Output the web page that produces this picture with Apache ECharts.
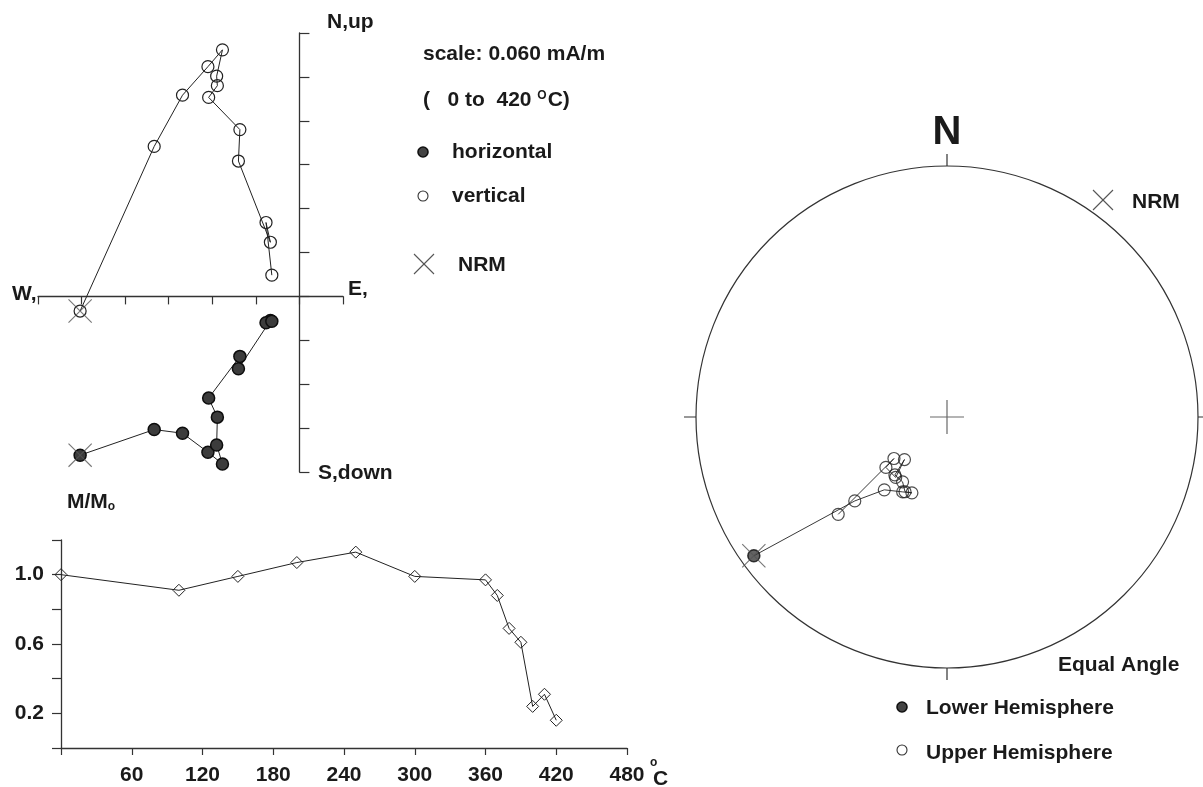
<!DOCTYPE html>
<html>
<head>
<meta charset="utf-8">
<script src="https://cdn.jsdelivr.net/npm/echarts@6/dist/echarts.min.js"></script>
<style>
  html, body { margin: 0; padding: 0; background: #fff; }
  #chart { width: 1203px; height: 787px; }
</style>
</head>
<body>
<div id="chart"></div>
<script>
// Thermal demagnetization steps (°C)
const steps = [0, 100, 150, 200, 250, 300, 360, 370, 380, 390, 400, 410, 420];
// Remanence components in mA/m
const east  = [-0.302, -0.200, -0.161, -0.126, -0.106, -0.114, -0.113, -0.125, -0.082, -0.084, -0.040, -0.046, -0.038];
const north = [-0.217, -0.182, -0.187, -0.213, -0.229, -0.203, -0.165, -0.139, -0.082, -0.099, -0.033, -0.036, -0.034];
const up    = [-0.020,  0.205,  0.275,  0.314,  0.337,  0.301,  0.288,  0.272,  0.228,  0.185,  0.074,  0.101,  0.029];
// Normalized intensity M/Mo
const intensity = [1.00, 0.91, 0.99, 1.07, 1.13, 0.99, 0.97, 0.88, 0.69, 0.61, 0.24, 0.31, 0.16];
// Labelled ticks of the intensity plot
const tempLabels = [60, 120, 180, 240, 300, 360, 420, 480];
const intensityLabels = [0.2, 0.6, 1.0];

const FONT = "'Liberation Sans', Arial, Helvetica, sans-serif";
const INK = '#1a1a1a';
const LINE = '#222';

// thin "x" and "+" marker outlines built as filled strips
const xPath = 'path://M0,0.8L0.8,0L24,23.2L23.2,24Z M23.2,0L24,0.8L0.8,24L0,23.2Z';
const plusPath = 'path://M0,16.4H34V17.6H0Z M16.4,0H17.6V34H16.4Z';

const openStyle = { color: 'rgba(255,255,255,0)', borderColor: LINE, borderWidth: 1.2 };
const filledStyle = { color: '#3c3c3c', borderColor: '#0d0d0d', borderWidth: 1.5 };

// Zijderveld pairs
const vertPts = steps.map((t, i) => [east[i], up[i]]);
const horzPts = steps.map((t, i) => [east[i], north[i]]);

// Equal-angle (stereographic) projection of each direction
const D2R = Math.PI / 180;
const dirs = steps.map((t, i) => {
  const h = Math.hypot(east[i], north[i]);
  const inc = Math.atan2(-up[i], h) / D2R;          // positive = downward
  let dec = Math.atan2(east[i], north[i]) / D2R;
  if (dec < 0) dec += 360;
  const r = Math.tan((90 - Math.abs(inc)) / 2 * D2R);
  return { r, dec, lower: inc >= 0 };
});
const stereoPath = dirs.map(d => [d.r, d.dec]);
const lowerPts = dirs.filter(d => d.lower).map(d => [d.r, d.dec]);
const upperPts = dirs.filter(d => !d.lower).map(d => [d.r, d.dec]);

function txt(text, x, y, opts) {
  opts = opts || {};
  return {
    type: 'text', silent: true, z: 10,
    style: Object.assign({
      text, x, y,
      fontFamily: FONT, fontWeight: 'bold', fontSize: 21, fill: INK,
      align: 'left', verticalAlign: 'middle',
      textAlign: 'left', textVerticalAlign: 'middle'
    }, opts)
  };
}
function cross(cx, cy, half) {
  const s = { stroke: '#555', lineWidth: 1.1 };
  return { type: 'group', silent: true, children: [
    { type: 'line', shape: { x1: cx - half, y1: cy - half, x2: cx + half, y2: cy + half }, style: s },
    { type: 'line', shape: { x1: cx - half, y1: cy + half, x2: cx + half, y2: cy - half }, style: s }
  ]};
}
function dot(cx, cy, filled) {
  return { type: 'circle', silent: true, shape: { cx, cy, r: 5 },
    style: filled ? { fill: '#444', stroke: '#111', lineWidth: 1.6 }
                  : { fill: '#fff', stroke: '#333', lineWidth: 1.1 } };
}

const hiddenAxisParts = { axisLabel: { show: false }, splitLine: { show: false } };
const labelFont = { fontFamily: FONT, fontWeight: 'bold', fontSize: 21, color: INK };

const option = {
  animation: false,
  backgroundColor: '#fff',
  grid: [
    { left: 38, top: 33, width: 305, height: 439, outerBoundsMode: 'none' },
    { left: 61, top: 540, width: 566, height: 208, outerBoundsMode: 'none' }
  ],
  xAxis: [
    Object.assign({
      gridIndex: 0, type: 'value', min: -0.36, max: 0.06, interval: 0.06,
      axisLine: { onZero: true, lineStyle: { color: '#333', width: 1.3 } },
      axisTick: { show: true, inside: false, length: 8, lineStyle: { color: '#333', width: 1.2 } }
    }, hiddenAxisParts),
    {
      gridIndex: 1, type: 'value', min: 0, max: 480, interval: 60,
      axisLine: { onZero: false, lineStyle: { color: '#333', width: 1.3 } },
      axisTick: { show: true, length: 7, lineStyle: { color: '#333', width: 1.2 } },
      axisLabel: Object.assign({ margin: 17, formatter: v => tempLabels.includes(v) ? String(v) : '' }, labelFont),
      splitLine: { show: false }
    }
  ],
  yAxis: [
    Object.assign({
      gridIndex: 0, type: 'value', min: -0.24, max: 0.36, interval: 0.06,
      axisLine: { onZero: true, lineStyle: { color: '#333', width: 1.3 } },
      axisTick: { show: true, inside: true, length: 10, lineStyle: { color: '#333', width: 1.2 } }
    }, hiddenAxisParts),
    {
      gridIndex: 1, type: 'value', min: 0, max: 1.2, interval: 0.2,
      axisLine: { onZero: false, lineStyle: { color: '#333', width: 1.3 } },
      axisTick: { show: true, length: 9, lineStyle: { color: '#333', width: 1.2 } },
      axisLabel: Object.assign({ margin: 17, formatter: v => intensityLabels.some(l => Math.abs(l - v) < 1e-6) ? v.toFixed(1) : '' }, labelFont),
      splitLine: { show: false }
    }
  ],
  polar: { center: [947, 417], radius: 251 },
  angleAxis: {
    type: 'value', min: 0, max: 360, interval: 90, startAngle: 90, clockwise: true,
    axisLine: { lineStyle: { color: '#333', width: 1.2 } },
    axisTick: { show: true, length: 12, lineStyle: { color: '#333', width: 1.2 } },
    axisLabel: { show: false }, splitLine: { show: false }
  },
  radiusAxis: {
    type: 'value', min: 0, max: 1,
    axisLine: { show: false }, axisTick: { show: false }, axisLabel: { show: false }, splitLine: { show: false }
  },
  series: [
    // Orthogonal vector plot
    { name: 'vertical', type: 'line', xAxisIndex: 0, yAxisIndex: 0, data: vertPts,
      symbol: 'circle', symbolSize: 12, itemStyle: openStyle,
      lineStyle: { color: LINE, width: 1 }, z: 3 },
    { name: 'horizontal', type: 'line', xAxisIndex: 0, yAxisIndex: 0, data: horzPts,
      symbol: 'circle', symbolSize: 12, itemStyle: filledStyle,
      lineStyle: { color: LINE, width: 1 }, z: 3 },
    { name: 'NRM', type: 'scatter', xAxisIndex: 0, yAxisIndex: 0,
      data: [vertPts[0], horzPts[0]], symbol: xPath, symbolSize: 24,
      itemStyle: { color: '#555' }, z: 4 },
    // Intensity decay
    { name: 'M/Mo', type: 'line', xAxisIndex: 1, yAxisIndex: 1,
      data: steps.map((t, i) => [t, intensity[i]]),
      symbol: 'diamond', symbolSize: 12,
      itemStyle: { color: 'rgba(255,255,255,0)', borderColor: LINE, borderWidth: 1 },
      lineStyle: { color: LINE, width: 1 }, z: 3 },
    // Equal-angle stereonet
    { name: 'path', type: 'line', coordinateSystem: 'polar', data: stereoPath,
      symbol: 'none', lineStyle: { color: LINE, width: 0.9 }, z: 2 },
    { name: 'Upper Hemisphere', type: 'scatter', coordinateSystem: 'polar', data: upperPts,
      symbol: 'circle', symbolSize: 12, itemStyle: openStyle, z: 3 },
    { name: 'Lower Hemisphere', type: 'scatter', coordinateSystem: 'polar', data: lowerPts,
      symbol: 'circle', symbolSize: 12, itemStyle: filledStyle, z: 3 },
    { name: 'NRM direction', type: 'scatter', coordinateSystem: 'polar', data: [stereoPath[0]],
      symbol: xPath, symbolSize: 24, itemStyle: { color: '#555' }, z: 4 },
    { name: 'centre', type: 'scatter', coordinateSystem: 'polar', data: [[0, 0]],
      symbol: plusPath, symbolSize: 34, itemStyle: { color: '#444' }, z: 2 }
  ],
  graphic: [
    // axis end labels
    txt('W,', 12, 294),
    txt('E,', 348, 289),
    txt('N,up', 327, 22),
    txt('S,down', 318, 473),
    // vector plot key
    txt('scale: 0.060 mA/m', 423, 54),
    txt('(   0 to  420 {o|O}C)', 423, 100, {
      rich: { o: { fontFamily: FONT, fontWeight: 'bold', fontSize: 12, fill: INK, verticalAlign: 'top', padding: [0, 1, 8, 0] } }
    }),
    dot(423, 152, true), txt('horizontal', 452, 152),
    dot(423, 196, false), txt('vertical', 452, 196),
    cross(424, 264, 10), txt('NRM', 458, 265),
    // intensity plot labels
    txt('M/M{s|o}', 67, 502, {
      rich: { s: { fontFamily: FONT, fontWeight: 'bold', fontSize: 12, fill: INK, verticalAlign: 'bottom', padding: [8, 0, 0, 0] } }
    }),
    txt('o', 650, 763, { fontSize: 12 }),
    txt('C', 653, 779),
    // stereonet labels
    txt('N', 947, 133, { fontSize: 40, align: 'center', textAlign: 'center' }),
    cross(1103, 200, 10), txt('NRM', 1132, 202),
    txt('Equal Angle', 1058, 665),
    dot(902, 707, true), txt('Lower Hemisphere', 926, 708),
    dot(902, 750, false), txt('Upper Hemisphere', 926, 753)
  ]
};

const chart = echarts.init(document.getElementById('chart'), null, { renderer: 'canvas' });
chart.setOption(option);
</script>
</body>
</html>
